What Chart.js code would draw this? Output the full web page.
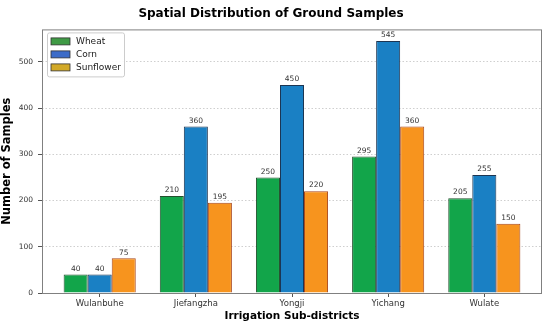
<!DOCTYPE html>
<html>
<head>
<meta charset="utf-8">
<script src="https://cdn.jsdelivr.net/npm/chart.js@4"></script>
<style>
  html, body { margin: 0; padding: 0; background: #fff; }
  #wrap { width: 550px; height: 327px; }
</style>
</head>
<body>
<div id="wrap"><canvas id="SamplesChart"></canvas></div>
<script>
// data
const districts = ['Wulanbuhe', 'Jiefangzha', 'Yongji', 'Yichang', 'Wulate'];
const wheat = [40, 210, 250, 295, 205];
const corn = [40, 360, 450, 545, 255];
const sunflower = [75, 195, 220, 360, 150];
const yTicks = [0, 100, 200, 300, 400, 500];

const FONT = "'DejaVu Sans', sans-serif";

function toPoints(values) {
    return values.map((v, i) => ({ x: i, y: v }));
}

// values over every bar
const barLabels = {
    id: 'barLabels',
    afterDatasetsDraw(chart) {
        const ctx = chart.ctx;
        ctx.save();
        ctx.font = '7.5px ' + FONT;
        ctx.fillStyle = '#333';
        ctx.textAlign = 'center';
        ctx.textBaseline = 'bottom';
        chart.data.datasets.forEach((ds, di) => {
            chart.getDatasetMeta(di).data.forEach((bar, i) => {
                ctx.fillText(ds.data[i].y, bar.x, bar.y - 2);
            });
        });
        ctx.restore();
    }
};

// box round the plot + legend inside top-left
const frameAndLegend = {
    id: 'frameAndLegend',
    afterDraw(chart) {
        const ctx = chart.ctx;
        const a = chart.chartArea;
        ctx.save();
        ctx.strokeStyle = '#808080';
        ctx.lineWidth = 1;
        ctx.strokeRect(a.left + 0.5, a.top + 0.5, a.right - a.left - 1, a.bottom - a.top);

        const swatch = ['#3f9a45', '#3d6cc8', '#d2a927'];
        const names = chart.data.datasets.map(d => d.label);
        const x = a.left + 5, y = a.top + 3;
        ctx.fillStyle = 'rgba(255,255,255,0.9)';
        ctx.strokeStyle = '#cccccc';
        ctx.beginPath();
        ctx.roundRect(x + 0.5, y + 0.5, 77, 44, 2);
        ctx.fill();
        ctx.stroke();
        ctx.font = '9px ' + FONT;
        ctx.textBaseline = 'middle';
        names.forEach((n, i) => {
            const ry = y + 9 + i * 13;
            ctx.fillStyle = swatch[i];
            ctx.fillRect(x + 4, ry - 3.5, 19, 7);
            ctx.strokeStyle = '#333';
            ctx.lineWidth = 0.8;
            ctx.strokeRect(x + 4, ry - 3.5, 19, 7);
            ctx.fillStyle = '#222';
            ctx.fillText(n, x + 29, ry);
        });
        ctx.restore();
    }
};

const ctx = document.getElementById('SamplesChart');

new Chart(ctx, {
    type: 'bar',
    data: {
        datasets: [
            { label: 'Wheat', data: toPoints(wheat), backgroundColor: '#12a54a', borderColor: '#24502e', borderWidth: 1 },
            { label: 'Corn', data: toPoints(corn), backgroundColor: '#1a80c4', borderColor: '#1d3552', borderWidth: 1 },
            { label: 'Sunflower', data: toPoints(sunflower), backgroundColor: '#f7941e', borderColor: '#a8471c', borderWidth: 1 }
        ]
    },
    options: {
        responsive: true,
        maintainAspectRatio: false,
        animation: false,
        layout: { padding: { right: 8, top: 3, left: 0, bottom: 4 } },
        datasets: { bar: { categoryPercentage: 0.75, barPercentage: 1.0, grouped: true } },
        plugins: {
            legend: { display: false },
            tooltip: { enabled: false },
            title: {
                display: true,
                text: 'Spatial Distribution of Ground Samples',
                color: '#000',
                font: { family: FONT, size: 12, weight: 'bold' },
                padding: { top: 4, bottom: 8 }
            }
        },
        scales: {
            x: {
                type: 'linear',
                min: -0.6,
                max: 4.6,
                offset: false,
                afterFit: s => { s.height = 30; },
                afterBuildTicks: s => { s.ticks = districts.map((d, i) => ({ value: i })); },
                ticks: {
                    autoSkip: false,
                    maxRotation: 0,
                    color: '#333',
                    padding: 2,
                    font: { family: FONT, size: 8.5 },
                    callback: v => districts[v] || ''
                },
                grid: { offset: false, drawOnChartArea: false, tickLength: 4, tickColor: '#555', color: '#555' },
                border: { display: false },
                title: {
                    display: true,
                    text: 'Irrigation Sub-districts',
                    color: '#000',
                    padding: { top: 1, bottom: 0 },
                    font: { family: FONT, size: 10.5, weight: 'bold' }
                }
            },
            y: {
                min: 0,
                max: 570,
                afterFit: s => { s.width = 42; },
                afterBuildTicks: s => { s.ticks = yTicks.map(v => ({ value: v })); },
                ticks: {
                    color: '#333',
                    padding: 5,
                    font: { family: FONT, size: 7.5 }
                },
                grid: {
                    color: '#cfcfcf',
                    tickBorderDash: [],
                    tickColor: '#555',
                    tickLength: 4
                },
                border: { display: false, dash: [1.5, 2] },
                title: {
                    display: true,
                    text: 'Number of Samples',
                    color: '#000',
                    padding: { top: 0, bottom: 0 },
                    font: { family: FONT, size: 11.5, weight: 'bold' }
                }
            }
        }
    },
    plugins: [barLabels, frameAndLegend]
});
</script>
</body>
</html>
